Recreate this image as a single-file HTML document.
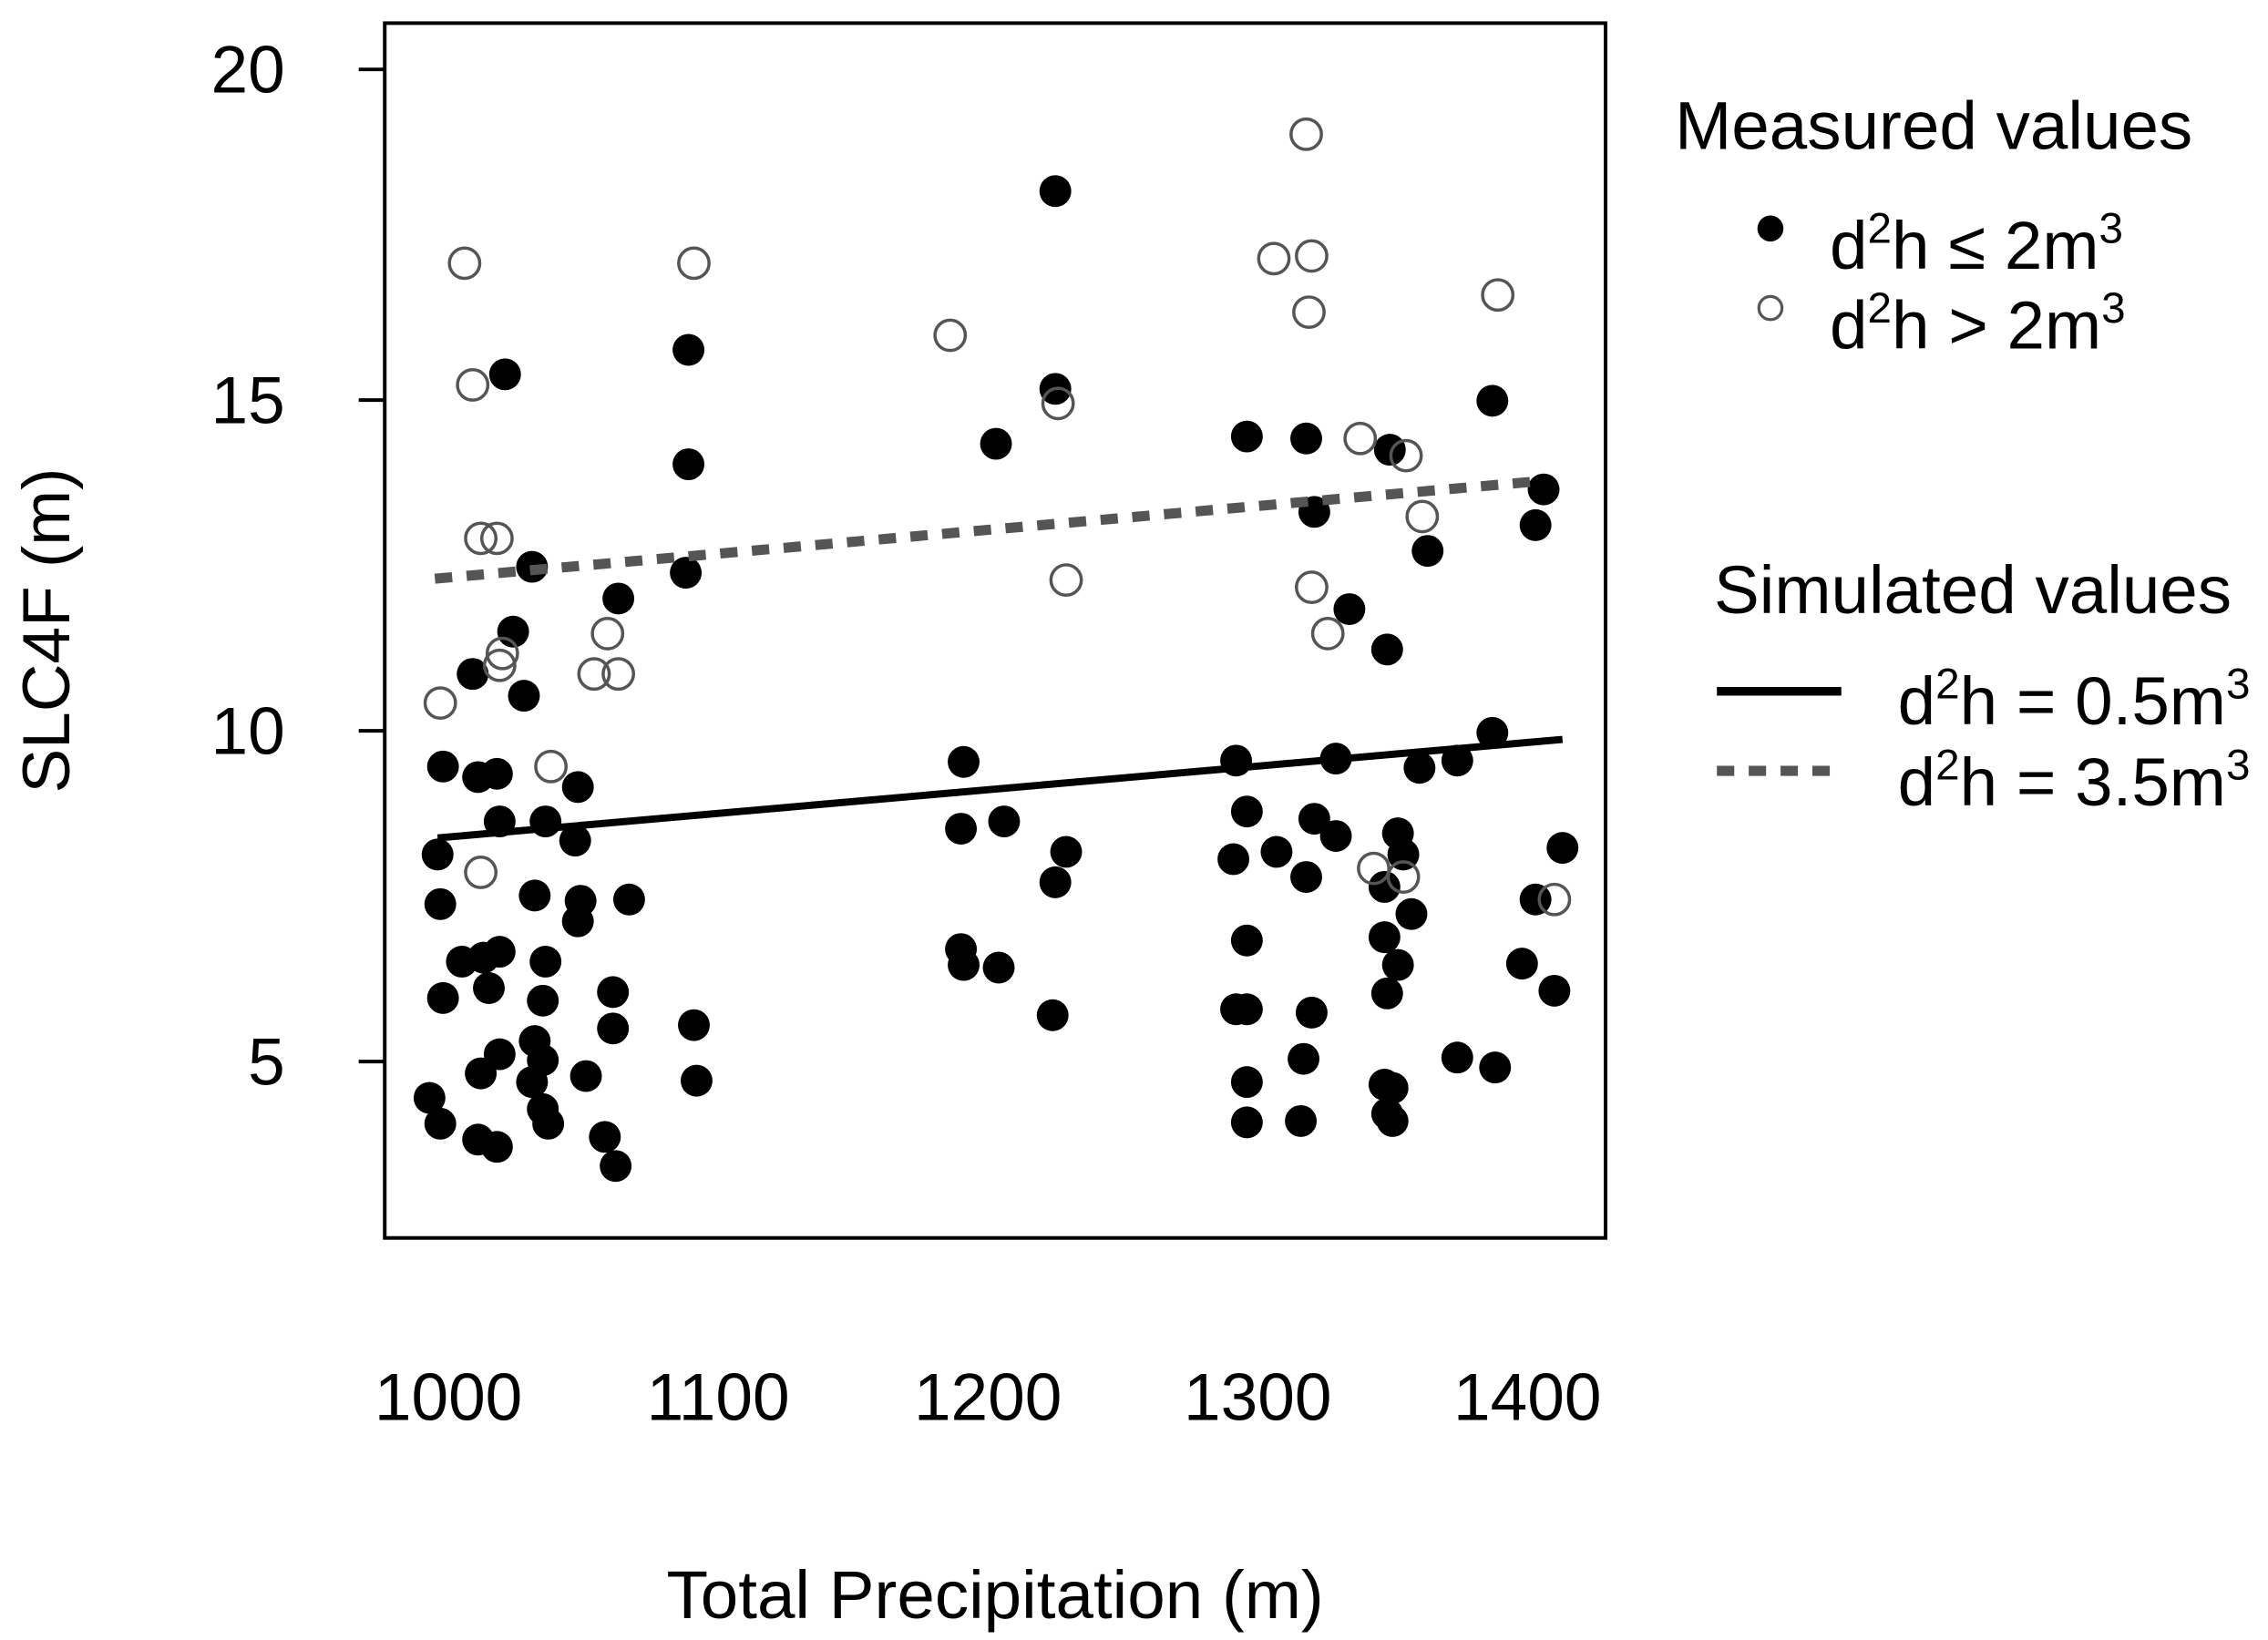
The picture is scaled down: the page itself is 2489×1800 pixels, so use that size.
<!DOCTYPE html>
<html><head><meta charset="utf-8"><style>
html,body{margin:0;padding:0;background:#fff;}
svg{display:block;font-family:"Liberation Sans",Arial,sans-serif;}
</style></head><body>
<svg id="chart" width="2489" height="1800" viewBox="0 0 1568 1134" preserveAspectRatio="none" xmlns="http://www.w3.org/2000/svg">
<rect x="0" y="0" width="1568" height="1134" fill="#fff"/>
<g id="marks"></g>
<rect x="266" y="16" width="844" height="840" fill="none" stroke="#000" stroke-width="2.5"/>
<g id="axes" font-size="46" fill="#000"></g>
<text x="688" y="1119" font-size="47" text-anchor="middle">Total Precipitation (m)</text>
<text transform="translate(48,436) rotate(-90)" font-size="46" text-anchor="middle">SLC4F (m)</text>
<g font-size="47">
<text x="1158" y="103">Measured values</text>
<circle cx="1224" cy="158" r="9" fill="#000"/>
<text x="1265" y="186">d<tspan font-size="30" dy="-18">2</tspan><tspan dy="18">h ≤ 2m</tspan><tspan font-size="30" dy="-18">3</tspan></text>
<circle cx="1224" cy="213" r="8" fill="none" stroke="#555" stroke-width="2"/>
<text x="1265" y="241">d<tspan font-size="30" dy="-18">2</tspan><tspan dy="18">h &gt; 2m</tspan><tspan font-size="30" dy="-18">3</tspan></text>
<text x="1185" y="424">Simulated values</text>
<line x1="1187" y1="478" x2="1273" y2="478" stroke="#000" stroke-width="6"/>
<text x="1312" y="501">d<tspan font-size="30" dy="-18">2</tspan><tspan dy="18">h = 0.5m</tspan><tspan font-size="30" dy="-18">3</tspan></text>
<line x1="1187" y1="533" x2="1273" y2="533" stroke="#555" stroke-width="7" stroke-dasharray="12,10"/>
<text x="1312" y="557">d<tspan font-size="30" dy="-18">2</tspan><tspan dy="18">h = 3.5m</tspan><tspan font-size="30" dy="-18">3</tspan></text>
</g>
</svg>
<script>
const xTicks=[1000,1100,1200,1300,1400];
const yTicks=[5,10,15,20];
const smallX=[1021,1031,1024,1009,1028,998,1011,1018,1019,996,997,1032,1048,1036,1047,1049,1048,1067,1063,1005,1013,1019,1015,1036,998,1035,1061,1061,1012,1019,1032,1035,1031,1051,993,997,1011,1018,1035,1037,1058,1062,1089,1089,1088,1091,1092,1225,1225,1203,1191,1190,1206,1229,1225,1190,1191,1204,1224,1296,1318,1321,1334,1348,1349,1363,1387,1406,1403,1387,1292,1329,1360,1374,1296,1321,1329,1291,1307,1318,1352,1354,1347,1357,1413,1403,1296,1347,1352,1348,1398,1410,1292,1296,1320,1317,1374,1388,1296,1347,1350,1348,1296,1316,1350];
const smallY=[15.39,12.48,11.5,10.86,10.53,9.46,9.3,9.35,8.63,8.13,7.38,7.51,9.15,8.63,8.34,7.43,7.12,7.45,12.0,6.51,6.57,6.66,6.11,6.51,5.96,5.92,6.05,5.5,4.82,5.11,5.31,5.02,4.69,4.78,4.45,4.06,3.82,3.71,4.28,4.06,3.86,3.42,15.76,14.03,12.39,5.55,4.71,18.16,15.17,14.34,9.53,8.52,8.63,8.17,7.71,6.70,6.46,6.42,5.70,14.45,14.42,13.31,11.84,11.23,14.25,12.72,14.99,13.65,13.11,9.97,9.55,9.58,9.44,9.55,8.78,8.67,8.41,8.06,8.17,7.79,8.45,8.13,7.64,7.23,8.23,7.45,6.83,6.88,6.46,6.03,6.48,6.07,5.79,5.79,5.74,5.04,5.06,4.91,4.69,4.65,4.6,4.21,4.08,4.1,4.1];
const largeX=[1006,1009,1012,1018,1020,1019,997,1038,1059,1054,1063,1012,1091,1186,1226,1229,1318,1306,1320,1319,1338,1355,1361,1320,1326,1389,1343,1354,1410];
const largeY=[17.07,15.23,12.91,12.91,11.17,10.99,10.42,9.46,11.47,10.86,10.86,7.86,17.07,15.98,14.95,12.28,19.02,17.14,17.18,16.33,14.42,14.16,13.24,12.17,11.47,16.59,7.92,7.79,7.45];
const solidLineX=[996,1413];
const solidLineY=[8.38,9.87];
const dashedLineX=[995,1403];
const dashedLineY=[12.3,13.77];

const sx=v=>310+(v-1000)*(1056-310)/400;
const sy=v=>48+(20-v)*(734-48)/15;
const NS='http://www.w3.org/2000/svg';
const marks=document.getElementById('marks');
const axes=document.getElementById('axes');
function mk(tag,attrs,parent){const e=document.createElementNS(NS,tag);for(const k in attrs)e.setAttribute(k,attrs[k]);parent.appendChild(e);return e;}

yTicks.forEach(t=>{
  const l=mk('line',{x1:248,x2:266,y1:sy(t),y2:sy(t),stroke:'#000','stroke-width':2.5},axes);
  
  
  const tx=mk('text',{x:197,y:sy(t)+16,'text-anchor':'end'},axes);
  tx.textContent=t;
  
  
});
xTicks.forEach(t=>{
  const tx=mk('text',{x:sx(t),y:982,'text-anchor':'middle'},axes);
  tx.textContent=t;
  
  
});
smallX.forEach((x,i)=>{
  const c=mk('circle',{cx:sx(x),cy:sy(smallY[i]),r:11,fill:'#000'},marks);
  
  
});
largeX.forEach((x,i)=>{
  const c=mk('circle',{cx:sx(x),cy:sy(largeY[i]),r:10.5,fill:'none',stroke:'#555','stroke-width':2.2},marks);
  
  
});
const s=mk('line',{x1:sx(solidLineX[0]),y1:sy(solidLineY[0]),x2:sx(solidLineX[1]),y2:sy(solidLineY[1]),stroke:'#000','stroke-width':5},marks);


const d=mk('line',{x1:sx(dashedLineX[0]),y1:sy(dashedLineY[0]),x2:sx(dashedLineX[1]),y2:sy(dashedLineY[1]),stroke:'#555','stroke-width':7,'stroke-dasharray':'12,10'},marks);


</script>
</body></html>
